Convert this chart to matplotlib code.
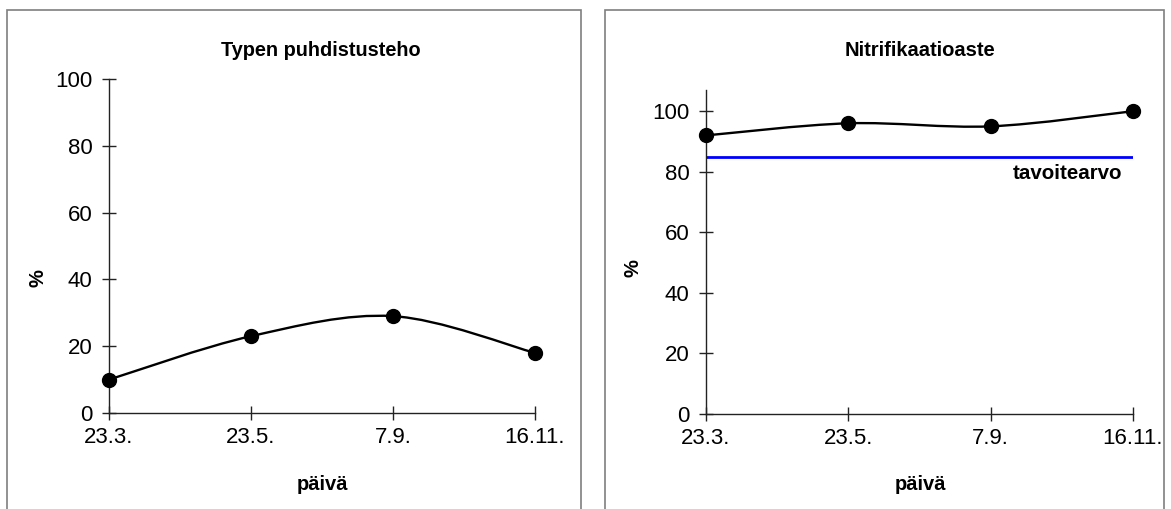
import numpy as np
import matplotlib.pyplot as plt
from matplotlib.path import Path
from matplotlib.patches import PathPatch, Rectangle

plt.rcParams['font.family'] = ['Liberation Sans', 'DejaVu Sans']

# data
dates = ['23.3.', '23.5.', '7.9.', '16.11.']
typen = [10, 23, 29, 18]
nitri = [92, 96, 95, 100]
tavoite = 85

W, H = 1171, 509
fig = plt.figure(figsize=(W / 100, H / 100), dpi=100)


def px(x, y):
    return x / W, 1 - y / H


def smooth_line(ax, xs, ys):
    # Excel-tyylinen pehmennetty viiva (Bezier, Catmull-Rom-kontrollipisteet)
    p = np.column_stack([xs, ys]).astype(float)
    n = len(p)
    verts = [p[0]]
    codes = [Path.MOVETO]
    for i in range(n - 1):
        p0 = p[max(i - 1, 0)]
        p1 = p[i]
        p2 = p[i + 1]
        p3 = p[min(i + 2, n - 1)]
        c1 = p1 + (p2 - p0) / 6
        c2 = p2 - (p3 - p1) / 6
        verts += [c1, c2, p2]
        codes += [Path.CURVE4] * 3
    patch = PathPatch(Path(verts, codes), facecolor='none', edgecolor='black',
                      lw=1.7, clip_on=False, zorder=3)
    ax.add_patch(patch)
    ax.plot(xs, ys, 'o', color='black', ms=10, clip_on=False, zorder=4)


def setup(ax, ymax):
    x = np.arange(len(dates))
    ax.set_xlim(0, len(dates) - 1)
    ax.set_ylim(0, ymax)
    ax.set_xticks(x)
    ax.set_xticklabels(dates)
    ax.set_yticks(range(0, 101, 20))
    for s in ['top', 'right']:
        ax.spines[s].set_visible(False)
    for s in ['left', 'bottom']:
        ax.spines[s].set_color('#222222')
        ax.spines[s].set_linewidth(1)
    ax.tick_params(axis='both', direction='inout', length=10, width=1,
                   color='#222222', labelsize=16)
    ax.tick_params(axis='y', pad=7)
    ax.tick_params(axis='x', pad=5)
    ax.patch.set_alpha(0)
    return x


# kehykset
for x0, x1 in [(7, 581), (605, 1164)]:
    fig.patches.append(Rectangle(px(x0, 560), (x1 - x0) / W, 550 / H,
                                 transform=fig.transFigure, fill=False,
                                 edgecolor='#7f7f7f', lw=1.2))

# vasen kuva
ax1 = fig.add_axes([109 / W, 1 - 413 / H, (535 - 109) / W, (413 - 79) / H])
x = setup(ax1, 100)
smooth_line(ax1, x, typen)
fig.text(*px(321, 50), 'Typen puhdistusteho', ha='center', va='center',
         fontsize=14.3, fontweight='bold')
fig.text(*px(38, 278), '%', ha='center', va='center', rotation=90,
         fontsize=14.5, fontweight='bold')
fig.text(*px(322, 485), 'päivä', ha='center', va='center',
         fontsize=14.5, fontweight='bold')

# oikea kuva
ax2 = fig.add_axes([706 / W, 1 - 414 / H, (1133 - 706) / W, (414 - 90) / H])
x = setup(ax2, 107)
ax2.plot([x[0], x[-1]], [tavoite, tavoite], color='#0000ff', lw=2, zorder=2)
smooth_line(ax2, x, nitri)
ax2.text(2.54, tavoite - 5.6, 'tavoitearvo', ha='center', va='center',
         fontsize=14.8, fontweight='bold')
fig.text(*px(920, 50), 'Nitrifikaatioaste', ha='center', va='center',
         fontsize=14.5, fontweight='bold')
fig.text(*px(633, 268), '%', ha='center', va='center', rotation=90,
         fontsize=14.5, fontweight='bold')
fig.text(*px(920, 485), 'päivä', ha='center', va='center',
         fontsize=14.5, fontweight='bold')

fig.savefig('out.png', dpi=100)
